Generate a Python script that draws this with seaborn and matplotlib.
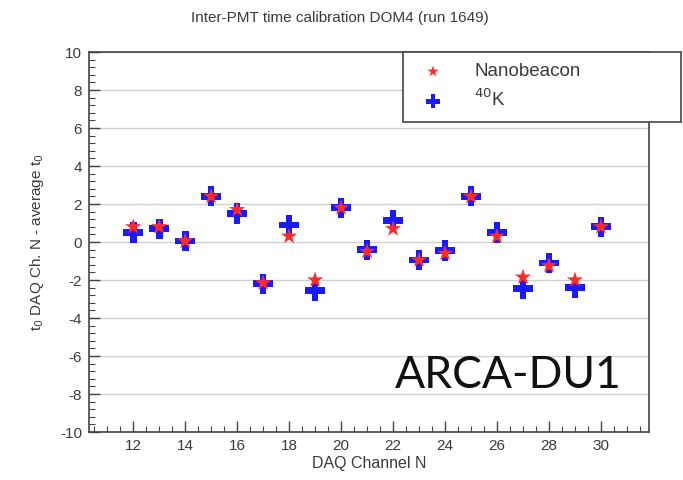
import numpy as np
import pandas as pd
import matplotlib
matplotlib.use("Agg")
import matplotlib.pyplot as plt
import seaborn as sns
from matplotlib.ticker import MultipleLocator

channels = [12, 13, 14, 15, 16, 17, 18, 19, 20, 21, 22, 23, 24, 25, 26, 27, 28, 29, 30]
nanobeacon = [0.8, 0.8, 0.05, 2.4, 1.7, -2.15, 0.3, -2.0, 1.8, -0.5, 0.7, -0.95, -0.6, 2.4, 0.3, -1.85, -1.25, -2.0, 0.8]
k40 = [0.5, 0.7, 0.05, 2.4, 1.5, -2.2, 0.9, -2.55, 1.8, -0.4, 1.15, -0.95, -0.45, 2.4, 0.5, -2.45, -1.1, -2.4, 0.8]

sns.set_theme(style="white")
plt.rcParams['font.family'] = ['Liberation Sans', 'DejaVu Sans']
plt.rcParams['axes.unicode_minus'] = False
txt = '#3a3a3a'

fig = plt.figure(figsize=(6.83, 4.8), dpi=100)
ax = fig.add_axes([89/683, 1 - 432/480, (649-89)/683, (432-52)/480])

df_k = pd.DataFrame({"ch": channels, "v": k40})
df_n = pd.DataFrame({"ch": channels, "v": nanobeacon})

sns.scatterplot(data=df_k, x="ch", y="v", marker="P", s=210, color="#1a1aff",
                edgecolor="none", ax=ax, label="$^{40}$K", zorder=3)
sns.scatterplot(data=df_n, x="ch", y="v", marker="*", s=150, color="#ff2a2a",
                edgecolor="none", ax=ax, label="Nanobeacon", zorder=4)

ax.set_xlim(10.3, 31.85)
ax.set_ylim(-10, 10)
ax.xaxis.set_major_locator(MultipleLocator(2))
ax.xaxis.set_minor_locator(MultipleLocator(0.5))
ax.yaxis.set_major_locator(MultipleLocator(2))
ax.yaxis.set_minor_locator(MultipleLocator(0.4))
ax.tick_params(axis='both', which='major', direction='in', length=8, width=1,
               color='#444444', labelsize=11, labelcolor=txt, bottom=True, left=True, pad=5)
ax.tick_params(axis='both', which='minor', direction='in', length=4, width=0.8,
               color='#444444', bottom=True, left=True)
ax.grid(axis='y', which='major', color='#d0d0d0', linewidth=1)
ax.grid(axis='x', visible=False)
for sp in ax.spines.values():
    sp.set_color('#444444')
    sp.set_linewidth(1.2)

ax.set_xlabel("DAQ Channel N", fontsize=11.5, color=txt, labelpad=2)
ax.set_ylabel("t$_0$ DAQ Ch. N - average t$_0$", fontsize=11, color=txt, labelpad=10)
fig.text(340/683, 1 - 18/480, "Inter-PMT time calibration DOM4 (run 1649)",
         ha='center', va='center', fontsize=11, color=txt)

handles, labels = ax.get_legend_handles_labels()
order = [1, 0]
x0, x1, y0, y1 = 403/683, 681/683, 1 - 123/480, 1 - 52/480
leg = ax.legend([handles[i] for i in order], [labels[i] for i in order],
                loc='upper left', bbox_to_anchor=(x0, y0, x1 - x0, y1 - y0),
                bbox_transform=fig.transFigure, mode='expand', frameon=True, fancybox=False,
                fontsize=13.5, borderpad=0.6, labelspacing=0.45, handletextpad=1.2,
                borderaxespad=0, markerscale=0.7)
leg.get_frame().set_edgecolor('#444444')
leg.get_frame().set_linewidth(1.2)
leg.get_frame().set_facecolor('white')
leg.get_frame().set_alpha(1)
for t in leg.get_texts():
    t.set_color(txt)

ax.text(508/683, 1 - 375/480, "ARCA-DU1", transform=fig.transFigure,
        ha='center', va='center', fontsize=32, color='#111111', family=['Lato', 'DejaVu Sans'])

fig.savefig("out.png", dpi=100)
